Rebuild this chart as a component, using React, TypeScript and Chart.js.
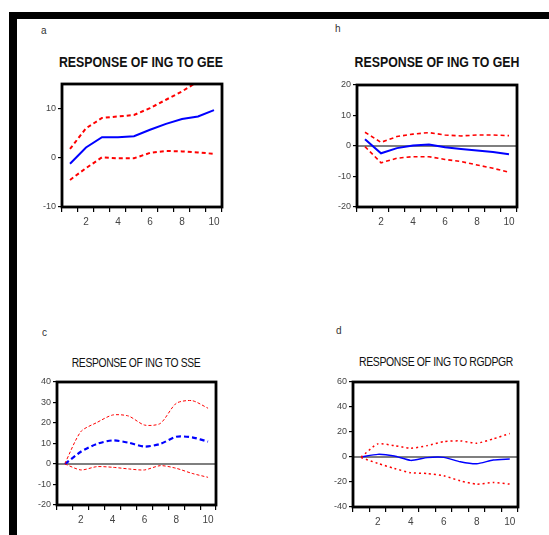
import React, { useEffect, useRef } from "react";
import { Chart, registerables } from "chart.js";

Chart.register(...registerables);

// ---------- data ----------
const periods = ["1", "2", "3", "4", "5", "6", "7", "8", "9", "10"];
const shownXLabels = ["2", "4", "6", "8", "10"];

const geeResp = [-1.2, 2.1, 4.2, 4.2, 4.4, 5.7, 6.9, 7.9, 8.4, 9.7];
const geeUpper = [1.8, 6.0, 8.1, 8.4, 8.7, 10.1, 11.8, 13.5, 15.5, 17.5];
const geeLower = [-4.5, -2.1, 0.1, -0.1, -0.1, 1.0, 1.4, 1.3, 1.1, 0.8];
const geeTicks = [-10, 0, 10];

const gehResp = [2.2, -2.4, -0.7, 0.2, 0.5, -0.4, -1.0, -1.5, -2.0, -2.7];
const gehUpper = [4.5, 1.2, 3.1, 3.9, 4.4, 3.6, 3.3, 3.6, 3.6, 3.4];
const gehLower = [-0.2, -5.5, -4.0, -3.5, -3.5, -4.4, -5.1, -6.2, -7.3, -8.6];
const gehTicks = [-20, -10, 0, 10, 20];

const sseResp = [0, 6.0, 9.8, 11.5, 10.4, 8.5, 9.8, 13.3, 13.0, 10.9];
const sseUpper = [0.3, 15.8, 20.2, 23.9, 23.4, 19.0, 19.8, 29.6, 30.9, 27.2];
const sseLower = [0, -2.9, -1.3, -1.6, -2.4, -2.9, -0.8, -2.1, -4.6, -6.5];
const sseTicks = [-20, -10, 0, 10, 20, 30, 40];

const rgdResp = [0, 2.1, 0.8, -2.7, -0.5, -0.3, -3.8, -5.4, -2.4, -1.6];
const rgdUpper = [0, 10.5, 9.1, 7.0, 9.1, 12.3, 12.9, 11.0, 14.5, 18.8];
const rgdLower = [-0.5, -5.1, -9.1, -12.6, -13.2, -15.0, -19.1, -21.7, -20.4, -21.7];
const rgdTicks = [-40, -20, 0, 20, 40, 60];

// y-axis maxima (panel a is cut at 15)
const yMax = [15, 20, 40, 60];

const titles = [
  "RESPONSE OF ING TO GEE",
  "RESPONSE OF ING TO GEH",
  "RESPONSE OF ING TO SSE",
  "RESPONSE OF ING TO RGDPGR",
];
const panelLetters = ["a", "h", "c", "d"];

// ---------- layout ----------
type Panel = {
  area: [number, number, number, number];
  resp: number[];
  upper: number[];
  lower: number[];
  ticks: number[];
  zeroLine: boolean;
  respDash: number[];
  respWidth: number;
  bandDash: number[];
  bandWidth: number;
  tension: number;
};

const panels: Panel[] = [
  { area: [62, 84, 222, 207], resp: geeResp, upper: geeUpper, lower: geeLower, ticks: geeTicks, zeroLine: false, respDash: [], respWidth: 2, bandDash: [4, 3], bandWidth: 2, tension: 0 },
  { area: [357, 85, 517, 207], resp: gehResp, upper: gehUpper, lower: gehLower, ticks: gehTicks, zeroLine: true, respDash: [], respWidth: 2, bandDash: [4, 3], bandWidth: 1.6, tension: 0 },
  { area: [57, 382, 216, 505], resp: sseResp, upper: sseUpper, lower: sseLower, ticks: sseTicks, zeroLine: true, respDash: [5, 3], respWidth: 2.2, bandDash: [3, 2], bandWidth: 1, tension: 0.25 },
  { area: [353, 382, 518, 507], resp: rgdResp, upper: rgdUpper, lower: rgdLower, ticks: rgdTicks, zeroLine: true, respDash: [], respWidth: 1.5, bandDash: [2, 3], bandWidth: 1.5, tension: 0.2 },
];

const titleStyles = [
  { cx: 141, top: 55, size: 14, bold: true, sx: 0.88 },
  { cx: 437, top: 55, size: 14, bold: true, sx: 0.88 },
  { cx: 136, top: 357, size: 12, bold: false, sx: 0.86 },
  { cx: 436, top: 356, size: 12, bold: false, sx: 0.87 },
];
const letterPos = [
  [41, 26],
  [335, 24],
  [42, 328],
  [336, 326],
];

const FONT = '"Liberation Sans", Arial, sans-serif';
const PAD_L = 40;
const PAD_T = 10;
const PAD_R = 10;
const PAD_B = 25;

const boxPlugin = {
  id: "boxPlugin",
  beforeDatasetsDraw(chart: any) {
    const opts = chart.options.plugins.boxPlugin || {};
    if (!opts.zeroLine) return;
    const { ctx, chartArea } = chart;
    const y = chart.scales.y.getPixelForValue(0);
    ctx.save();
    ctx.strokeStyle = "#000";
    ctx.lineWidth = 1.2;
    ctx.beginPath();
    ctx.moveTo(chartArea.left, y);
    ctx.lineTo(chartArea.right, y);
    ctx.stroke();
    ctx.restore();
  },
  afterDatasetsDraw(chart: any) {
    const { ctx, chartArea } = chart;
    ctx.save();
    ctx.strokeStyle = "#000";
    ctx.lineWidth = 2.8;
    ctx.strokeRect(chartArea.left, chartArea.top, chartArea.right - chartArea.left, chartArea.bottom - chartArea.top);
    ctx.restore();
  },
};

function ChartWithMax({ p, max }: { p: Panel; max: number }) {
  const ref = useRef<HTMLCanvasElement>(null);
  const [l, t, r, b] = p.area;
  const w = r - l + PAD_L + PAD_R;
  const h = b - t + PAD_T + PAD_B;
  useEffect(() => {
    if (!ref.current) return;
    const ds = (data: number[], color: string, dash: number[], width: number) => ({
      data,
      borderColor: color,
      borderDash: dash,
      borderWidth: width,
      pointRadius: 0,
      fill: false,
      tension: p.tension,
    });
    const chart = new Chart(ref.current, {
      type: "line",
      data: {
        labels: periods,
        datasets: [
          ds(p.upper, "#ff0000", p.bandDash, p.bandWidth),
          ds(p.lower, "#ff0000", p.bandDash, p.bandWidth),
          ds(p.resp, "#0000ff", p.respDash, p.respWidth),
        ],
      },
      options: {
        responsive: false,
        animation: false,
        events: [],
        layout: { padding: { left: 0, top: PAD_T, right: PAD_R, bottom: 0 } },
        plugins: {
          legend: { display: false },
          tooltip: { enabled: false },
          title: { display: false },
          boxPlugin: { zeroLine: p.zeroLine },
        } as any,
        scales: {
          x: {
            type: "category",
            offset: true,
            grid: { offset: true, drawOnChartArea: false, drawTicks: true, tickLength: 5, color: "#000", lineWidth: 1.2 },
            border: { display: false },
            ticks: {
              autoSkip: false,
              maxRotation: 0,
              padding: 4,
              color: "#444",
              font: { family: FONT, size: 10 },
              callback: (_v: any, i: number) => (shownXLabels.includes(periods[i]) ? periods[i] : ""),
            },
            afterFit: (s: any) => {
              s.height = PAD_B;
            },
          },
          y: {
            min: p.ticks[0],
            max: max,
            grid: { drawOnChartArea: false, drawTicks: true, tickLength: 4, color: "#000", lineWidth: 1.2 },
            border: { display: false },
            ticks: {
              padding: 2,
              color: "#444",
              font: { family: FONT, size: 9 },
            },
            afterBuildTicks: (s: any) => {
              s.ticks = p.ticks.map((v) => ({ value: v }));
            },
            afterFit: (s: any) => {
              s.width = PAD_L;
            },
          },
        },
      },
      plugins: [boxPlugin],
    } as any);
    return () => chart.destroy();
  }, [p, max]);
  return (
    <canvas
      ref={ref}
      width={w}
      height={h}
      style={{ position: "absolute", left: l - PAD_L, top: t - PAD_T, width: w, height: h }}
    />
  );
}

export default function App() {
  return (
    <div style={{ position: "absolute", left: 0, top: 0, width: 549, height: 535, background: "#fff", overflow: "hidden" }}>
      <div style={{ position: "absolute", left: 9, top: 12, width: 540, height: 7, background: "#000" }} />
      <div style={{ position: "absolute", left: 9, top: 12, width: 8, height: 523, background: "#000" }} />
      {panels.map((p, i) => (
        <ChartWithMax key={i} p={p} max={yMax[i]} />
      ))}
      {titles.map((tx, i) => {
        const s = titleStyles[i];
        return (
          <div
            key={"t" + i}
            style={{
              position: "absolute",
              left: s.cx,
              top: s.top,
              transform: `translateX(-50%) scaleX(${s.sx})`,
              whiteSpace: "nowrap",
              fontFamily: FONT,
              fontSize: s.size,
              fontWeight: s.bold ? "bold" : "normal",
              lineHeight: 1,
              color: "#111",
              letterSpacing: s.bold ? 0 : -0.4,
            }}
          >
            {tx}
          </div>
        );
      })}
      {panelLetters.map((lt, i) => (
        <div
          key={"l" + i}
          style={{
            position: "absolute",
            left: letterPos[i][0],
            top: letterPos[i][1],
            fontFamily: FONT,
            fontSize: 10,
            lineHeight: 1,
            color: "#333",
          }}
        >
          {lt}
        </div>
      ))}
    </div>
  );
}
